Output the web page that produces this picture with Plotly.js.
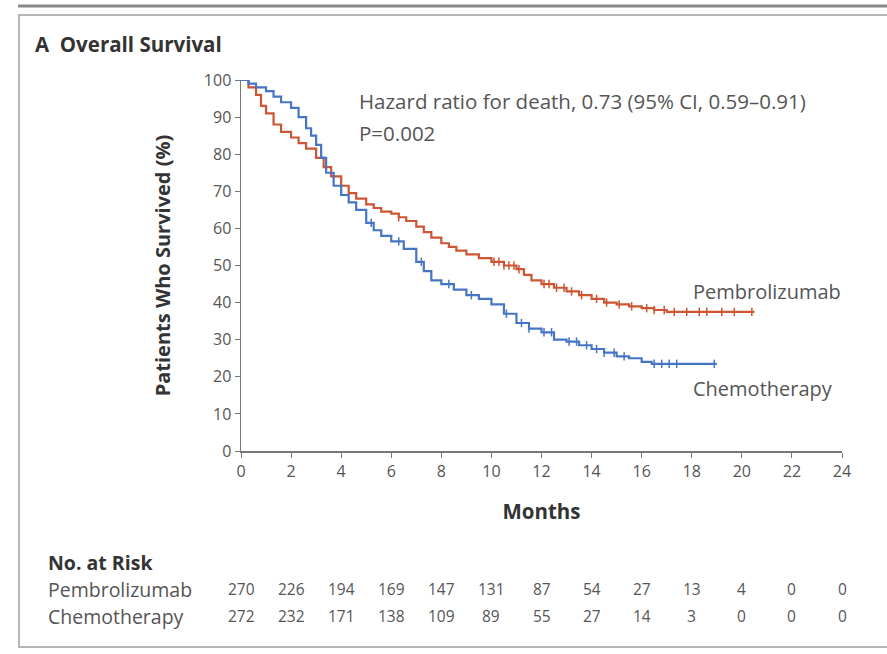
<!DOCTYPE html>
<html>
<head>
<meta charset="utf-8">
<script src="https://cdn.plot.ly/plotly-3.0.1.min.js"></script>
<style>html,body{margin:0;padding:0;background:#fff}#chart{width:887px;height:654px}</style>
</head>
<body>
<div id="chart"></div>
<script>
// Kaplan-Meier curves (months, % surviving)
var pembroMonths = [0,0.3,0.6,0.8,1.0,1.3,1.6,2.0,2.3,2.6,3.0,3.3,3.6,4.0,4.3,4.6,5.0,5.3,5.6,6.0,6.3,6.6,7.0,7.3,7.6,8.0,8.3,8.6,9.0,9.5,10.0,10.5,11.0,11.3,11.6,12.0,12.5,13.0,13.5,14.0,14.5,15.0,15.5,16.0,16.5,17.0,20.5];
var pembroSurv   = [100,98,96,93,91,88,86,84.5,83,81.5,79,76.5,74,71.5,69.5,68,66.5,65.5,64.5,64,63,62,60.5,59,57.5,56,55,54,53,52,51,50,49,47.5,46,45,44,43,42,41,40,39.5,39,38.5,38,37.5,37.5];
var chemoMonths  = [0,0.3,0.6,1.0,1.3,1.6,2.0,2.3,2.6,2.8,3.0,3.2,3.4,3.7,4.0,4.3,4.6,5.0,5.3,5.6,6.0,6.5,7.0,7.3,7.6,8.0,8.5,9.0,9.5,10.0,10.5,11.0,11.5,12.0,12.5,13.0,13.5,14.0,14.5,15.0,15.5,16.0,16.4,19.0];
var chemoSurv    = [100,99,98,97,95.5,94,92.5,90,87,85,82.5,79,75,71.5,69,67,65,61.5,59.5,58,56.5,54.5,51,48.5,46,45,43.5,42,41,39.5,37,34.5,33,32,30,29.5,28.5,27.5,26.5,25.5,25,24,23.5,23.5];
// censoring marks (months)
var pembroCensor = [6.3,10.1,10.3,10.5,10.7,10.9,11.1,12.1,12.3,12.6,12.9,13.2,13.6,14.2,14.6,15.1,15.6,16.2,16.5,16.9,17.3,17.8,18.3,18.6,19.2,19.7,20.4];
var chemoCensor  = [5.2,6.3,7.2,8.3,9.2,10.6,11.2,11.5,12.1,12.4,13.1,13.4,13.8,14.2,14.5,14.9,15.3,16.5,16.8,17.1,17.4,18.9];
// axis ticks
var xTicks = [0,2,4,6,8,10,12,14,16,18,20,22,24];
var yTicks = [0,10,20,30,40,50,60,70,80,90,100];
// number at risk
var riskLabels = ["Pembrolizumab","Chemotherapy"];
var riskPembro = [270,226,194,169,147,131,87,54,27,13,4,0,0];
var riskChemo  = [272,232,171,138,109,89,55,27,14,3,0,0,0];

var RED = "#cc5533", BLUE = "#4675c6", TXT = "#555555", DARK = "#333333";
var FONT = "Open Sans, sans-serif";

function stepAt(xs, ys, t){ var v = ys[0]; for (var i=0;i<xs.length;i++){ if (xs[i] <= t) v = ys[i]; } return v; }

var traces = [
  {x: pembroMonths, y: pembroSurv, mode:"lines", line:{shape:"hv", color:RED, width:2.2}, hoverinfo:"skip", showlegend:false, cliponaxis:false},
  {x: chemoMonths, y: chemoSurv, mode:"lines", line:{shape:"hv", color:BLUE, width:2.2}, hoverinfo:"skip", showlegend:false, cliponaxis:false},
  {x: pembroCensor, y: pembroCensor.map(function(t){return stepAt(pembroMonths,pembroSurv,t);}), mode:"markers",
   marker:{symbol:"line-ns-open", size:6, color:RED, line:{color:RED, width:1.5}}, hoverinfo:"skip", showlegend:false, cliponaxis:false},
  {x: chemoCensor, y: chemoCensor.map(function(t){return stepAt(chemoMonths,chemoSurv,t);}), mode:"markers",
   marker:{symbol:"line-ns-open", size:6, color:BLUE, line:{color:BLUE, width:1.5}}, hoverinfo:"skip", showlegend:false, cliponaxis:false}
];

var plotL = 241, plotR = 842, plotT = 80, plotB = 451;
var W = 887, H = 654, pw = plotR - plotL, ph = plotB - plotT;
function px2x(p){ return (p - plotL)/pw; }
function py2y(p){ return (plotB - p)/ph; }

function txt(t, xp, yp, size, color, anchor){
  return {text:t, xref:"paper", yref:"paper", x:px2x(xp), y:py2y(yp), xanchor:anchor||"left", yanchor:"middle", showarrow:false, font:{family:FONT, size:size, color:color}};
}
var ann = [
  txt("<b>A  Overall Survival</b>", 33, 44, 20.5, DARK),
  txt("Hazard ratio for death, 0.73 (95% CI, 0.59–0.91)", 357, 101, 20.5, TXT),
  txt("P=0.002", 357, 133, 20.5, TXT),
  txt("Pembrolizumab", 691, 291, 20, TXT),
  txt("Chemotherapy", 691, 388, 20, TXT),
  txt("<b>No. at Risk</b>", 46, 562, 19.5, DARK)
];
var rowY = [589, 616];
var rows = [riskPembro, riskChemo];
for (var r=0; r<2; r++){
  ann.push(txt(riskLabels[r], 46, rowY[r], 19.5, TXT));
  for (var i=0;i<xTicks.length;i++){
    ann.push({text:String(rows[r][i]), xref:"x", yref:"paper", x:xTicks[i], y:py2y(rowY[r]), xanchor:"center", yanchor:"middle", showarrow:false, font:{family:FONT, size:15.5, color:TXT}});
  }
}

var layout = {
  width:W, height:H,
  margin:{l:plotL, r:W-plotR, t:plotT, b:H-plotB},
  paper_bgcolor:"#fff", plot_bgcolor:"#fff",
  font:{family:FONT, color:TXT},
  xaxis:{range:[0,24], tickvals:xTicks, ticktext:xTicks.map(String), ticks:"outside", ticklen:5, tickcolor:"#777",
         showline:true, linecolor:"#777", linewidth:1.5, showgrid:false, zeroline:false,
         tickfont:{family:FONT, size:16, color:TXT},
         title:{text:"<b>Months</b>", font:{family:FONT, size:20.5, color:DARK}, standoff:24}},
  yaxis:{range:[0,100], tickvals:yTicks, ticktext:yTicks.map(String), ticks:"outside", ticklen:5, tickcolor:"#777",
         showline:true, linecolor:"#777", linewidth:1.5, showgrid:false, zeroline:false,
         tickfont:{family:FONT, size:16, color:TXT},
         title:{text:"<b>Patients Who Survived (%)</b>", font:{family:FONT, size:20, color:DARK}, standoff:28}},
  annotations: ann,
  shapes:[
    {type:"line", xref:"paper", yref:"paper", x0:px2x(18), x1:px2x(900), y0:py2y(6), y1:py2y(6), line:{color:"#8a8a8a", width:3}},
    {type:"rect", xref:"paper", yref:"paper", x0:px2x(19), x1:px2x(905), y0:py2y(647), y1:py2y(15), line:{color:"#b5b5b5", width:2}}
  ]
};

Plotly.newPlot("chart", traces, layout, {staticPlot:true, displayModeBar:false});
</script>
</body>
</html>
